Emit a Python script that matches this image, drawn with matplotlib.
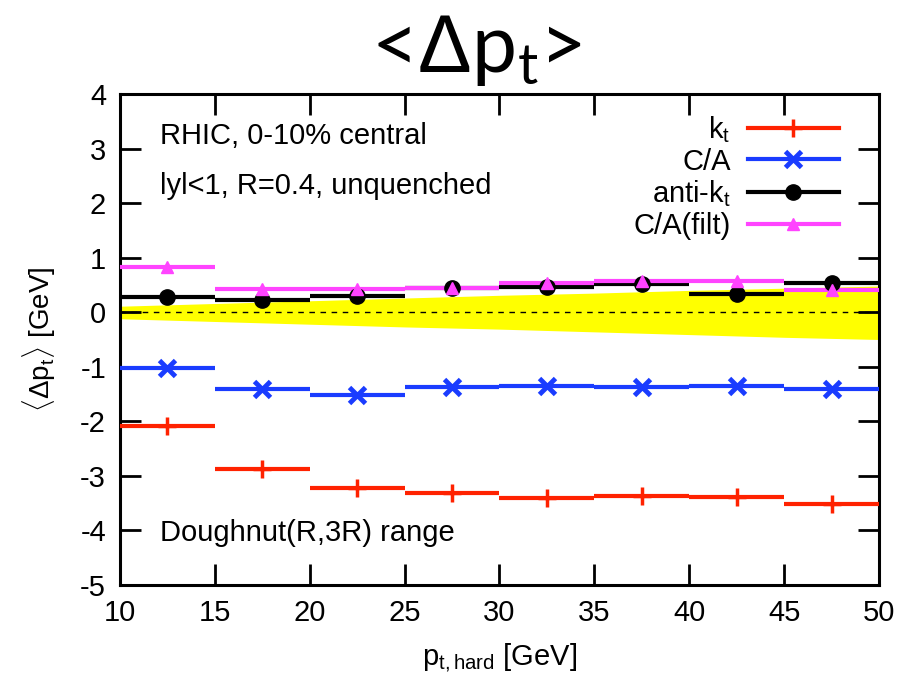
# mean pt shift vs hard pt for the four jet algorithms

import numpy as np
import matplotlib.pyplot as plt

plt.rcParams['font.family'] = ['Liberation Sans', 'DejaVu Sans']
plt.rcParams['mathtext.fontset'] = 'custom'
plt.rcParams['mathtext.rm'] = 'Liberation Sans'
plt.rcParams['mathtext.it'] = 'Liberation Sans'
plt.rcParams['axes.unicode_minus'] = False

# bins in pt,hard
bin_edges = [10, 15, 20, 25, 30, 35, 40, 45, 50]
bin_centres = [12.5, 17.5, 22.5, 27.5, 32.5, 37.5, 42.5, 47.5]

kt = [-2.09, -2.87, -3.22, -3.32, -3.41, -3.36, -3.38, -3.51]
ca = [-1.03, -1.41, -1.51, -1.37, -1.36, -1.37, -1.36, -1.40]
antikt = [0.28, 0.23, 0.29, 0.44, 0.46, 0.51, 0.34, 0.54]
ca_filt = [0.82, 0.42, 0.42, 0.45, 0.54, 0.58, 0.57, 0.40]

# yellow band around zero
band_x = [10, 15, 20, 25, 30, 35, 40, 45, 50]
band_hi = [0.11, 0.16, 0.21, 0.26, 0.31, 0.35, 0.40, 0.44, 0.48]
band_lo = [-0.12, -0.17, -0.22, -0.27, -0.31, -0.36, -0.41, -0.46, -0.50]

series = [
    ("k$_\\mathregular{t}$", kt, '#ff2200', '+', 13, 2.5),
    ("C/A", ca, '#1a3cff', 'x', 11, 3.5),
    ("anti-k$_\\mathregular{t}$", antikt, 'black', 'o', 11, 1),
    ("C/A(filt)", ca_filt, '#ff44ff', '^', 9, 1),
]

fig = plt.figure(figsize=(9.04, 6.8), dpi=100)
ax = fig.add_axes([0.1327, 0.1397, 0.8396, 0.7221])

ax.fill_between(band_x, band_lo, band_hi, color='#ffff00', lw=0, zorder=1)
ax.axhline(0, color='black', lw=1, ls=(0, (4, 4)), zorder=2)

for label, vals, col, mk, ms, mew in series:
    ax.hlines(vals, bin_edges[:-1], bin_edges[1:], colors=col, lw=3, zorder=3)
    ax.plot(bin_centres, vals, ls='none', marker=mk, ms=ms, mew=mew,
            color=col, zorder=4)
    # legend proxy
    ax.plot([], [], color=col, lw=3, marker=mk, ms=ms, mew=mew, label=label)

ax.set_xlim(10, 50)
ax.set_ylim(-5, 4)
ax.set_xticks(range(10, 51, 5))
ax.set_yticks(range(-5, 5))
ax.tick_params(direction='in', length=15, width=2, top=True, right=True,
               labelsize=21, pad=10)
for s in ax.spines.values():
    s.set_linewidth(2.2)

ax.set_xlabel("p$_\\mathregular{t,hard}$ [GeV]", fontsize=21, labelpad=10)
ax.set_ylabel("$\\langle$$\\Delta$p$_\\mathregular{t}$$\\rangle$ [GeV]", fontsize=20, labelpad=16)

ax.text(0.053, 0.915, "RHIC, 0-10% central", transform=ax.transAxes,
        fontsize=21, va='center')
ax.text(0.053, 0.813, "lyl<1, R=0.4, unquenched", transform=ax.transAxes,
        fontsize=21, va='center')
ax.text(0.053, 0.106, "Doughnut(R,3R) range", transform=ax.transAxes,
        fontsize=21, va='center')

ax.legend(loc='upper right', frameon=False, markerfirst=False, fontsize=21,
          handlelength=3.1, labelspacing=0.1, handletextpad=0.6,
          borderaxespad=0.2, bbox_to_anchor=(0.97, 0.995))

fig.text(0.527, 0.894, "<$\\Delta$p$_\\mathregular{t}$>", fontsize=58,
         ha='center', va='baseline', family=['Lato', 'DejaVu Sans'])

fig.savefig("out.png", dpi=100)
